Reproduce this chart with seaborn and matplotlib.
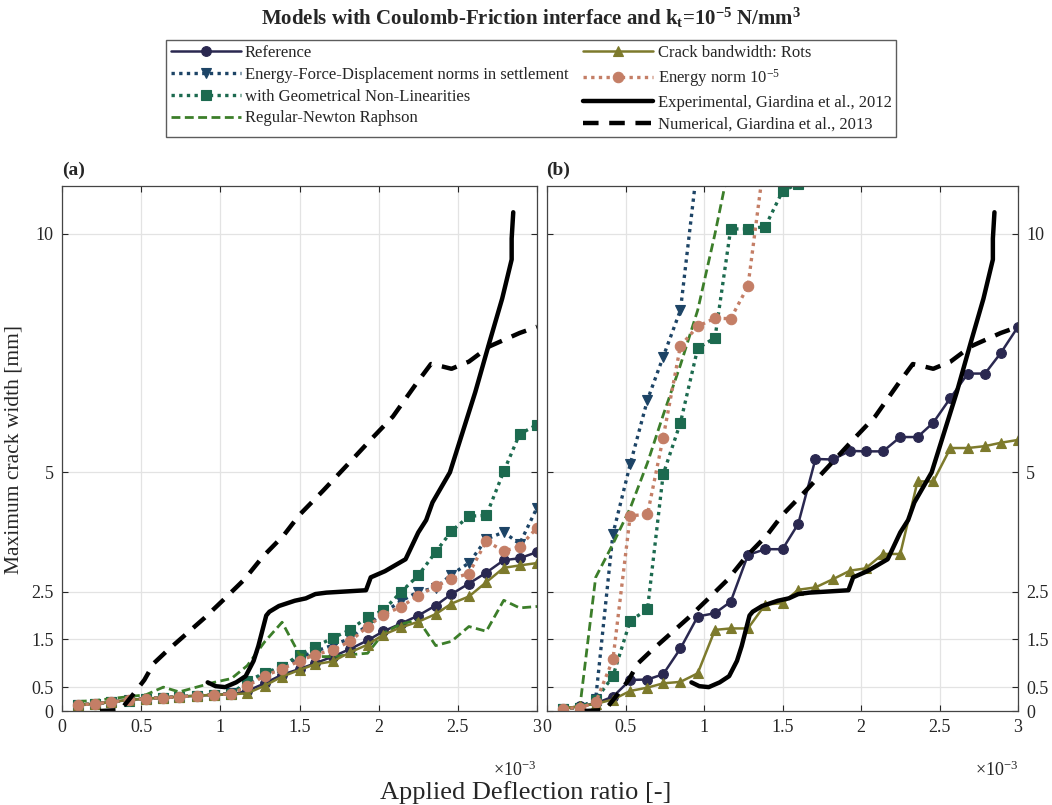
import matplotlib
matplotlib.use('Agg')
import numpy as np
import matplotlib.pyplot as plt
import seaborn as sns

sns.set_style('ticks')
plt.rcParams['font.family'] = ['Liberation Serif', 'DejaVu Serif']
plt.rcParams['mathtext.fontset'] = 'custom'
plt.rcParams['mathtext.rm'] = 'Liberation Serif'
plt.rcParams['mathtext.it'] = 'Liberation Serif:italic'
plt.rcParams['mathtext.bf'] = 'Liberation Serif:bold'

# deflection ratio steps (x 1e-3)
x_steps = [0.10, 0.21, 0.31, 0.42, 0.53, 0.64, 0.74, 0.85, 0.96, 1.07, 1.17, 1.28, 1.39, 1.50,
           1.60, 1.71, 1.82, 1.93, 2.03, 2.14, 2.25, 2.36, 2.46, 2.57, 2.68, 2.79, 2.89, 3.00]
x_tick_labels = ['0', '0.5', '1', '1.5', '2', '2.5', '3']
y_ticks = [0, 0.5, 1.5, 2.5, 5, 10]

# panel (a)
ref_a = [0.13, 0.15, 0.19, 0.23, 0.26, 0.28, 0.30, 0.32, 0.34, 0.35, 0.42, 0.58, 0.76, 0.88,
         1.00, 1.14, 1.30, 1.48, 1.67, 1.83, 2.00, 2.21, 2.45, 2.67, 2.90, 3.16, 3.20, 3.33]
efd_a = [0.13, 0.15, 0.19, 0.23, 0.26, 0.28, 0.30, 0.32, 0.34, 0.37, 0.56, 0.78, 0.92, 1.12,
         1.25, 1.38, 1.52, 1.80, 2.06, 2.30, 2.50, 2.58, 2.86, 3.10, 3.60, 3.75, 3.50, 4.26]
gnl_a = [0.13, 0.15, 0.19, 0.22, 0.26, 0.28, 0.30, 0.32, 0.34, 0.36, 0.62, 0.80, 0.93, 1.18,
         1.35, 1.53, 1.70, 1.97, 2.11, 2.49, 2.84, 3.33, 3.77, 4.08, 4.10, 5.02, 5.80, 6.00]
rnr_a = [0.20, 0.22, 0.26, 0.30, 0.34, 0.50, 0.40, 0.50, 0.60, 0.68, 0.95, 1.45, 1.86, 1.18,
         1.14, 1.14, 1.18, 1.21, 1.63, 1.82, 1.91, 1.37, 1.46, 1.77, 1.67, 2.32, 2.16, 2.19]
rots_a = [0.13, 0.15, 0.19, 0.23, 0.26, 0.28, 0.30, 0.32, 0.34, 0.35, 0.37, 0.53, 0.72, 0.86,
          0.98, 1.04, 1.23, 1.39, 1.60, 1.75, 1.87, 2.03, 2.25, 2.40, 2.70, 3.00, 3.05, 3.10]
en_a = [0.13, 0.15, 0.19, 0.23, 0.26, 0.28, 0.30, 0.32, 0.34, 0.36, 0.52, 0.74, 0.88, 1.05,
        1.18, 1.28, 1.46, 1.77, 2.02, 2.18, 2.42, 2.61, 2.77, 2.88, 3.56, 3.35, 3.44, 3.84]

# panel (b)
ref_b = [0.05, 0.10, 0.16, 0.30, 0.65, 0.66, 0.77, 1.31, 1.98, 2.05, 2.29, 3.27, 3.39, 3.39,
         3.92, 5.28, 5.27, 5.45, 5.44, 5.44, 5.74, 5.74, 6.04, 6.56, 7.07, 7.07, 7.50, 8.05]
efd_b = [0.05, 0.07, 0.25, 3.71, 5.17, 6.52, 7.42, 8.40, 11.5]
gnl_b = [0.05, 0.07, 0.23, 0.73, 1.89, 2.13, 4.96, 6.04, 7.60, 7.82, 10.1, 10.1, 10.15, 10.89, 11.05]
rnr_b = [0.05, 0.10, 2.80, 3.50, 4.25, 5.20, 6.20, 7.25, 8.40, 10.0, 11.6]
rots_b = [0.05, 0.10, 0.15, 0.24, 0.42, 0.49, 0.58, 0.61, 0.79, 1.70, 1.73, 1.73, 2.23, 2.26,
          2.54, 2.59, 2.76, 2.94, 2.99, 3.29, 3.29, 4.81, 4.81, 5.51, 5.51, 5.55, 5.62, 5.68]
en_b = [0.05, 0.07, 0.18, 1.08, 4.09, 4.12, 5.73, 7.65, 8.06, 8.23, 8.22, 8.90, 11.7]

# Giardina et al. curves (same in both panels)
exp_x = [0.92, 0.97, 1.03, 1.10, 1.16, 1.21, 1.24, 1.29, 1.31, 1.37, 1.47, 1.54, 1.60, 1.67, 1.77,
         1.92, 1.95, 2.04, 2.17, 2.25, 2.30, 2.34, 2.45, 2.53, 2.61, 2.70, 2.78, 2.84, 2.84, 2.85]
exp_y = [0.60, 0.52, 0.50, 0.60, 0.73, 1.05, 1.36, 2.00, 2.08, 2.20, 2.31, 2.36, 2.45, 2.48, 2.50,
         2.53, 2.80, 2.93, 3.18, 3.74, 4.00, 4.37, 5.00, 5.84, 6.68, 7.73, 8.64, 9.46, 9.90, 10.45]
num_x = [0.24, 0.37, 0.45, 0.52, 0.58, 0.66, 0.78, 0.90, 1.02, 1.15, 1.27, 1.40, 1.50, 1.65, 1.80,
         1.96, 2.09, 2.24, 2.33, 2.40, 2.46, 2.57, 2.70, 2.89, 3.00]
num_y = [0.00, 0.02, 0.35, 0.65, 1.00, 1.25, 1.60, 1.95, 2.33, 2.75, 3.24, 3.68, 4.11, 4.62, 5.15,
         5.72, 6.17, 6.87, 7.27, 7.22, 7.17, 7.32, 7.64, 7.92, 8.05]

labels = ['Reference',
          'Energy-Force-Displacement norms in settlement',
          'with Geometrical Non-Linearities',
          'Regular-Newton Raphson',
          'Crack bandwidth: Rots',
          r'Energy norm 10$^{-5}$',
          'Experimental, Giardina et al., 2012',
          'Numerical, Giardina et al., 2013']

DOT = (0, (1, 1.3))
styles = [
    dict(color='#2a2850', linestyle='-', marker='o', linewidth=1.8, markersize=7),
    dict(color='#1d4466', linestyle=DOT, marker='v', linewidth=2.4, markersize=7.5),
    dict(color='#1c6a4f', linestyle=DOT, marker='s', linewidth=2.4, markersize=6.5),
    dict(color='#3c7e2a', linestyle=(0, (3.2, 1.6)), marker=None, linewidth=2.0, markersize=0),
    dict(color='#7d7a2c', linestyle='-', marker='^', linewidth=1.8, markersize=7),
    dict(color='#c47e66', linestyle=DOT, marker='o', linewidth=2.4, markersize=7.5),
    dict(color='black', linestyle='-', marker=None, linewidth=3.2, markersize=0),
    dict(color='black', linestyle=(0, (3.5, 2.4)), marker=None, linewidth=3.2, markersize=0),
]


def draw(ax, x, y, st, label):
    x = np.array(x) * 1e-3
    sns.lineplot(x=x, y=y, ax=ax, estimator=None, sort=False, label=label,
                 color=st['color'], linestyle=st['linestyle'], marker=st['marker'],
                 linewidth=st['linewidth'], markersize=st['markersize'],
                 markeredgecolor=st['color'], markeredgewidth=0.8)


fig = plt.figure(figsize=(10.52, 8.05), dpi=100)
ax_a = fig.add_axes([62 / 1052, 94 / 805, 475 / 1052, 525 / 805])
ax_b = fig.add_axes([547 / 1052, 94 / 805, 471 / 1052, 525 / 805])

n = len
panel_data = {
    ax_a: [(x_steps, ref_a), (x_steps, efd_a), (x_steps, gnl_a), (x_steps, rnr_a),
           (x_steps, rots_a), (x_steps, en_a), (exp_x, exp_y), (num_x, num_y)],
    ax_b: [(x_steps, ref_b), (x_steps[:n(efd_b)], efd_b), (x_steps[:n(gnl_b)], gnl_b),
           (x_steps[:n(rnr_b)], rnr_b), (x_steps, rots_b), (x_steps[:n(en_b)], en_b),
           (exp_x, exp_y), (num_x, num_y)],
}

for ax, series in panel_data.items():
    for (xs, ys), st, lab in zip(series, styles, labels):
        draw(ax, xs, ys, st, lab)
    if ax.get_legend() is not None:
        ax.get_legend().remove()
    ax.set_xlim(0, 3e-3)
    ax.set_ylim(0, 11)
    ax.set_xticks(np.arange(0, 3.01, 0.5) * 1e-3)
    ax.set_xticklabels(x_tick_labels)
    ax.set_yticks(y_ticks)
    ax.set_yticklabels([f'{v:g}' for v in y_ticks])
    ax.grid(True, color='#e3e3e3', linewidth=0.9)
    ax.set_axisbelow(True)
    ax.tick_params(direction='in', top=True, right=True, length=4, width=0.8,
                   labelsize=13, colors='#262626', pad=6)
    for sp in ax.spines.values():
        sp.set_color('#444444')
        sp.set_linewidth(0.9)
    ax.set_xlabel('')
    ax.set_ylabel('')

ax_b.tick_params(labelleft=False, labelright=True)

# x1e-3 scale marks under each panel
for right in (536, 1018):
    fig.text(right / 1052, 1 - 770 / 805, r'$\times$10$^{-3}$', ha='right', va='center', fontsize=13)

handles, labs = ax_a.get_legend_handles_labels()
fig.legend(handles[:8], labs[:8], loc='upper center', bbox_to_anchor=(531 / 1052, 1 - 40 / 805),
           ncol=2, fontsize=12, frameon=True, fancybox=False, edgecolor='#333333',
           handlelength=4.2, handletextpad=0.25, columnspacing=0.9, labelspacing=0.35,
           borderpad=0.3, borderaxespad=0)

fig.text(531 / 1052, 1 - 18 / 805,
         r'Models with Coulomb-Friction interface and k$_\mathbf{t}$=10$^\mathbf{-5}$ N/mm$^\mathbf{3}$',
         ha='center', va='center', fontsize=15, fontweight='bold')
fig.text(62 / 1052, 1 - 170 / 805, '(a)', ha='left', va='center', fontsize=14, fontweight='bold')
fig.text(546 / 1052, 1 - 170 / 805, '(b)', ha='left', va='center', fontsize=14, fontweight='bold')
fig.text(526 / 1052, 1 - 793 / 805, 'Applied Deflection ratio [-]', ha='center', va='center', fontsize=19)
fig.text(14 / 1052, 1 - 450 / 805, 'Maximum crack width [mm]', ha='center', va='center',
         rotation=90, fontsize=15.5)

fig.savefig('out.png', dpi=100)
